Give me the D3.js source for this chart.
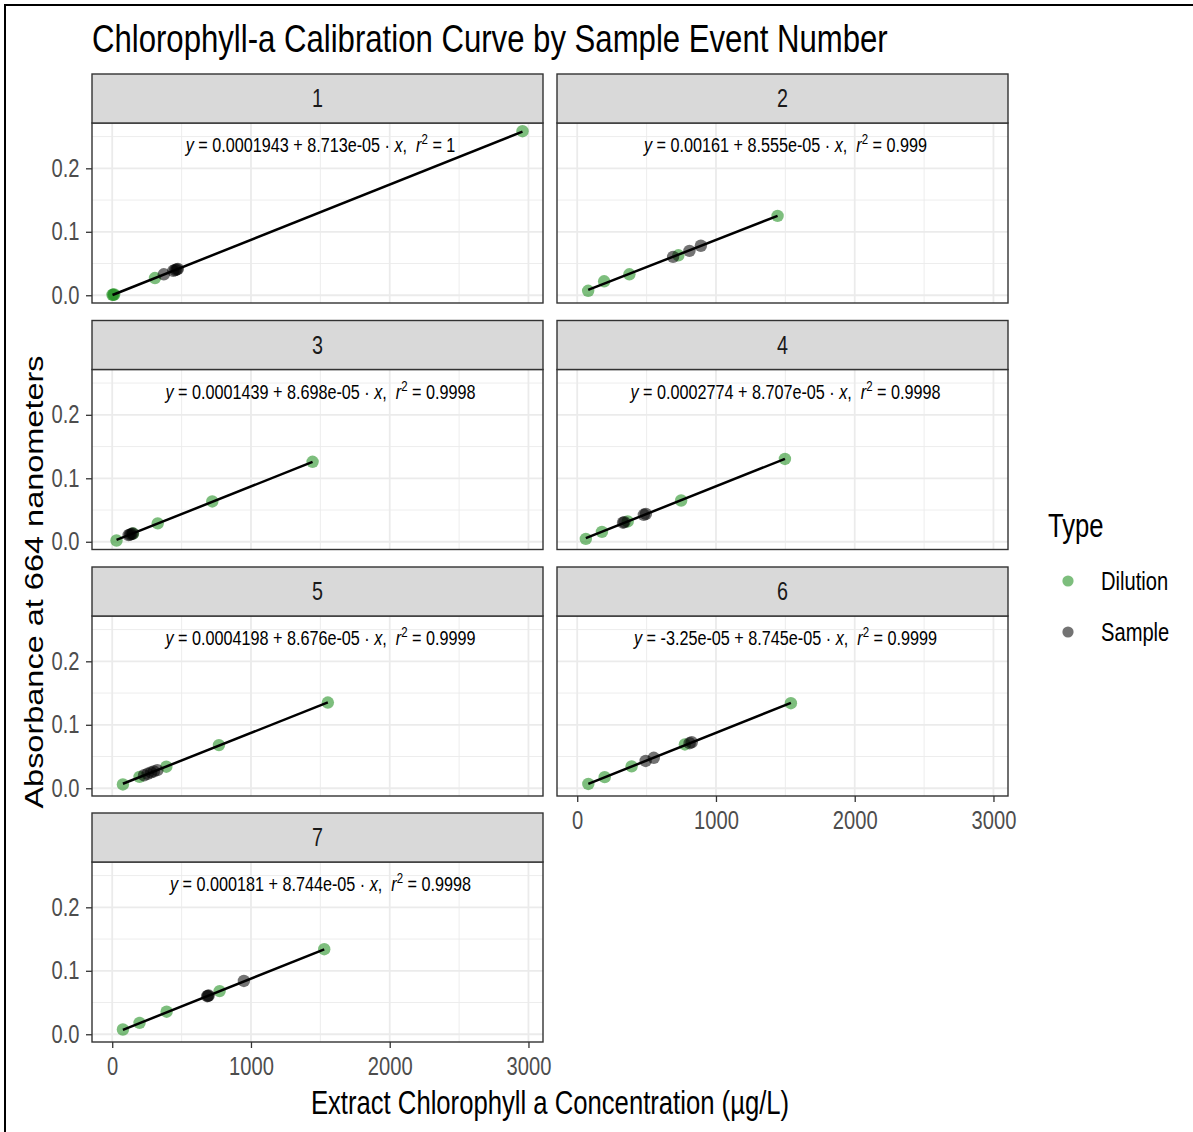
<!DOCTYPE html>
<html><head><meta charset="utf-8">
<script src="https://cdn.jsdelivr.net/npm/d3@7"></script>
<style>
body{margin:0;background:#fff}
svg{display:block}
text{font-family:"Liberation Sans",Arial,Helvetica,sans-serif;white-space:pre}
</style>
</head><body>
<svg id="chart" width="1193" height="1132"></svg>
<script>
// ---------------- data ----------------
const events = ["1","2","3","4","5","6","7"];
const intercepts = [0.0001943, 0.00161, 0.0001439, 0.0002774, 0.0004198, -0.0000325, 0.000181];
const slopes = [8.713e-05, 8.555e-05, 8.698e-05, 8.707e-05, 8.676e-05, 8.745e-05, 8.744e-05];
const interceptLabels = ["0.0001943","0.00161","0.0001439","0.0002774","0.0004198","-3.25e-05","0.000181"];
const slopeLabels = ["8.713e-05","8.555e-05","8.698e-05","8.707e-05","8.676e-05","8.745e-05","8.744e-05"];
const r2Labels = ["1","0.999","0.9998","0.9998","0.9999","0.9999","0.9998"];

const dilutionX = [
  [2, 8, 14, 308, 2957],
  [79, 194, 376, 729, 1444],
  [31, 150, 328, 721, 1444],
  [62, 178, 364, 749, 1497],
  [77, 197, 390, 769, 1554],
  [80, 198, 392, 776, 1540],
  [77, 197, 392, 774, 1528]
];
const dilutionY = [
  [0.0007, 0.0008, 0.0012, 0.0271, 0.2585],
  [0.0070, 0.0220, 0.0330, 0.0630, 0.1250],
  [0.0020, 0.0130, 0.0290, 0.0635, 0.1260],
  [0.0045, 0.0155, 0.0320, 0.0650, 0.1305],
  [0.0060, 0.0180, 0.0340, 0.0680, 0.1350],
  [0.0068, 0.0175, 0.0345, 0.0690, 0.1340],
  [0.0075, 0.0180, 0.0355, 0.0680, 0.1340]
];
const sampleX = [
  [372, 440, 455, 465, 473],
  [691, 809, 891],
  [118, 128, 138, 148],
  [330, 340, 480, 495],
  [230, 255, 280, 300, 325],
  [493, 552, 810, 825],
  [685, 690, 695, 949]
];
const sampleY = [
  [0.0330, 0.0385, 0.0398, 0.0407, 0.0414],
  [0.0605, 0.0700, 0.0780],
  [0.0105, 0.0113, 0.0122, 0.0130],
  [0.0300, 0.0310, 0.0425, 0.0440],
  [0.0205, 0.0228, 0.0250, 0.0265, 0.0285],
  [0.0430, 0.0480, 0.0710, 0.0725],
  [0.0600, 0.0605, 0.0610, 0.0840]
];

const xMajor = [0, 1000, 2000, 3000];
const xMinor = [500, 1500, 2500];
const yMajor = [0, 0.1, 0.2];
const yMinor = [0.05, 0.15, 0.25];
const legendTypes = ["Dilution", "Sample"];

const titleText = "Chlorophyll-a Calibration Curve by Sample Event Number";
const xTitle = "Extract Chlorophyll a Concentration (\u00b5g/L)";
const yTitle = "Absorbance at 664 nanometers";

// ---------------- layout ----------------
const W = 1193, H = 1132, SQ = 0.79;
const colX = [[92, 543], [557, 1008]];
const stripTops = [74, 320.5, 567, 813];
const stripH = 49, plotH = 180;
const colors = {Dilution: "#1f8f1f", Sample: "#000000"};
const opac = {Dilution: 0.58, Sample: 0.55};
const R = 6.2;

const svg = d3.select("#chart");
svg.append("rect").attr("width", W).attr("height", H).attr("fill", "#fff");
svg.append("rect").attr("x", 5).attr("y", 5).attr("width", W + 50).attr("height", H + 50)
  .attr("fill", "none").attr("stroke", "#000").attr("stroke-width", 2);

function sq(x, y, extra) { return `translate(${x},${y}) scale(${SQ},1)` + (extra || ""); }

const allX = dilutionX.flat().concat(sampleX.flat());
const allY = dilutionY.flat().concat(sampleY.flat());
const [xa, xb] = d3.extent(allX), [ya, yb] = d3.extent(allY);
const xDomain = [xa - 0.05 * (xb - xa), xb + 0.05 * (xb - xa)];
const yDomain = [ya - 0.05 * (yb - ya), yb + 0.05 * (yb - ya)];

// title
svg.append("text").attr("transform", sq(92, 52)).attr("font-size", 39.4).attr("fill", "#000").text(titleText);

events.forEach((ev, i) => {
  const row = Math.floor(i / 2), col = i % 2;
  const top = stripTops[row] + stripH, bottom = top + plotH;
  const [L, Rt] = colX[col];
  const x = d3.scaleLinear().domain(xDomain).range([L, Rt]);
  const y = d3.scaleLinear().domain(yDomain).range([bottom, top]);
  const g = svg.append("g").attr("class", "panel");

  g.append("rect").attr("x", L).attr("y", top).attr("width", Rt - L).attr("height", plotH).attr("fill", "#fff");
  // grid
  g.selectAll(".vmin").data(xMinor).join("line").attr("x1", d => x(d)).attr("x2", d => x(d))
    .attr("y1", top).attr("y2", bottom).attr("stroke", "#EBEBEB").attr("stroke-width", 0.9);
  g.selectAll(".hmin").data(yMinor).join("line").attr("y1", d => y(d)).attr("y2", d => y(d))
    .attr("x1", L).attr("x2", Rt).attr("stroke", "#EBEBEB").attr("stroke-width", 0.9);
  g.selectAll(".vmaj").data(xMajor).join("line").attr("x1", d => x(d)).attr("x2", d => x(d))
    .attr("y1", top).attr("y2", bottom).attr("stroke", "#EBEBEB").attr("stroke-width", 1.8);
  g.selectAll(".hmaj").data(yMajor).join("line").attr("y1", d => y(d)).attr("y2", d => y(d))
    .attr("x1", L).attr("x2", Rt).attr("stroke", "#EBEBEB").attr("stroke-width", 1.8);

  // points
  const dil = dilutionX[i].map((v, k) => ({x: v, y: dilutionY[i][k], t: "Dilution"}));
  const smp = sampleX[i].map((v, k) => ({x: v, y: sampleY[i][k], t: "Sample"}));
  g.selectAll(".pt").data(dil.concat(smp)).join("circle")
    .attr("cx", d => x(d.x)).attr("cy", d => y(d.y)).attr("r", R)
    .attr("fill", d => colors[d.t]).attr("fill-opacity", d => opac[d.t]);

  // regression line
  const xs = d3.extent(dilutionX[i].concat(sampleX[i]));
  const line = d3.line().x(d => x(d)).y(d => y(intercepts[i] + slopes[i] * d));
  g.append("path").attr("d", line(xs)).attr("fill", "none").attr("stroke", "#000").attr("stroke-width", 2.5);

  // border
  g.append("rect").attr("x", L).attr("y", top).attr("width", Rt - L).attr("height", plotH)
    .attr("fill", "none").attr("stroke", "#333").attr("stroke-width", 1.4);
  // strip
  g.append("rect").attr("x", L).attr("y", stripTops[row]).attr("width", Rt - L).attr("height", stripH)
    .attr("fill", "#D9D9D9").attr("stroke", "#333").attr("stroke-width", 1.4);
  g.append("text").attr("transform", sq((L + Rt) / 2, stripTops[row] + stripH / 2))
    .attr("text-anchor", "middle").attr("dy", "0.35em").attr("font-size", 25).attr("fill", "#1A1A1A").text(ev);

  // equation
  const eq = g.append("text").attr("transform", sq((L + Rt) / 2 + 3, top + 29))
    .attr("text-anchor", "middle").attr("font-size", 20.5).attr("fill", "#000");
  eq.append("tspan").attr("font-style", "italic").text("y");
  eq.append("tspan").text(` = ${interceptLabels[i]} + ${slopeLabels[i]} \u00b7 `);
  eq.append("tspan").attr("font-style", "italic").text("x");
  eq.append("tspan").text(",  ");
  eq.append("tspan").attr("font-style", "italic").text("r");
  eq.append("tspan").attr("dy", -8).attr("font-size", 14.5).text("2");
  eq.append("tspan").attr("dy", 8).text(` = ${r2Labels[i]}`);

  // y axis (left column)
  if (col === 0) {
    const ax = g.append("g").attr("transform", `translate(${L},0)`)
      .call(d3.axisLeft(y).tickValues(yMajor).tickFormat(d3.format(".1f")).tickSize(6).tickPadding(6));
    ax.select(".domain").remove();
    ax.selectAll(".tick line").attr("stroke", "#333").attr("stroke-width", 1.3);
    ax.selectAll(".tick text").attr("x", -12.5 / SQ).attr("transform", `scale(${SQ},1)`)
      .attr("font-size", 25.5).attr("fill", "#4D4D4D").attr("font-family", null);
  }
  // x axis (bottom panel in each column)
  if (i === 5 || i === 6) {
    const ax = g.append("g").attr("transform", `translate(0,${bottom})`)
      .call(d3.axisBottom(x).tickValues(xMajor).tickFormat(d3.format("d")).tickSize(6).tickPadding(9));
    ax.select(".domain").remove();
    ax.selectAll(".tick line").attr("stroke", "#333").attr("stroke-width", 1.3);
    ax.selectAll(".tick text").attr("transform", `scale(${SQ},1)`)
      .attr("font-size", 25.5).attr("fill", "#4D4D4D").attr("font-family", null);
  }
});

// axis titles
svg.append("text").attr("transform", sq(550, 1114)).attr("text-anchor", "middle")
  .attr("font-size", 32.5).attr("fill", "#000").text(xTitle);
svg.append("text").attr("transform", sq(43, 582, " rotate(-90)")).attr("text-anchor", "middle")
  .attr("font-size", 32.5).attr("fill", "#000").text(yTitle);

// legend
svg.append("text").attr("transform", sq(1048, 537)).attr("font-size", 32.5).attr("fill", "#000").text("Type");
const legY = [581, 632];
legendTypes.forEach((t, k) => {
  svg.append("circle").attr("cx", 1068).attr("cy", legY[k]).attr("r", 5.6)
    .attr("fill", colors[t]).attr("fill-opacity", opac[t]);
  svg.append("text").attr("transform", sq(1101, legY[k])).attr("dy", "0.35em")
    .attr("font-size", 25.5).attr("fill", "#000").text(t);
});
</script>
</body></html>
